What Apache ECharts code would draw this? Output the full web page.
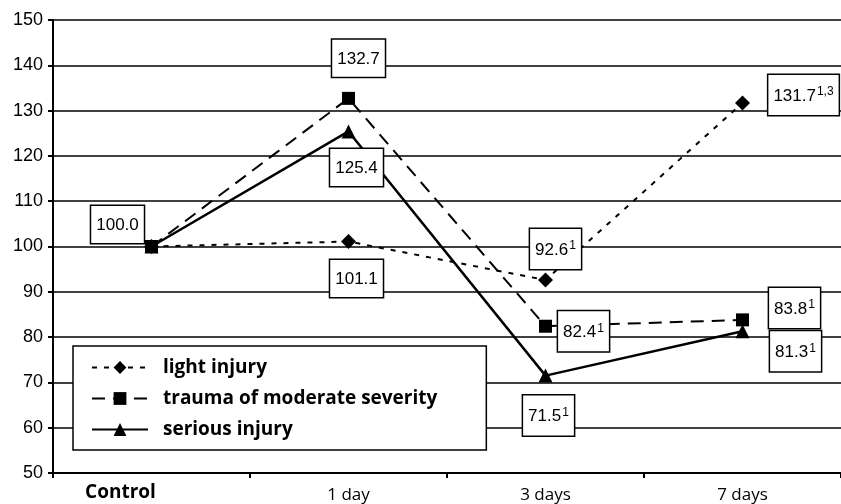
<!DOCTYPE html>
<html>
<head>
<meta charset="utf-8">
<script src="https://cdn.jsdelivr.net/npm/echarts@6/dist/echarts.min.js"></script>
<style>
  html, body { margin: 0; padding: 0; background: #fff; }
  #chart { width: 841px; height: 504px; }
</style>
</head>
<body>
<div id="chart"></div>
<script>
const categories = ['Control', '1 day', '3 days', '7 days']
const yTicks = [50, 60, 70, 80, 90, 100, 110, 120, 130, 140, 150]

const lightVals    = [100.0, 101.1, 92.6, 131.7]
const moderateVals = [100.0, 132.7, 82.4, 83.8]
const seriousVals  = [100.0, 125.4, 71.5, 81.3]

// superscript marks shown next to each value ('-' = no label box)
const lightSup    = ['-', '', '1', '1,3']
const moderateSup = ['', '', '1', '1']
const seriousSup  = ['-', '', '1', '1']

// label box offsets from the point, px
const lightOff    = [[0, 0], [8, 37], [10, -31], [61, -8]]
const moderateOff = [[-34, -22], [10, -40], [38, 5], [52, -12]]
const seriousOff  = [[0, 0], [8, 36], [3, 40], [53, 20]]

const FONT = 'Liberation Sans, Arial, sans-serif'
const BOLD = 'Open Sans, sans-serif'

const BOX = {
  show: true, position: 'inside', color: '#000',
  fontFamily: FONT, fontSize: 17,
  backgroundColor: '#fff', borderColor: '#000', borderWidth: 1.5,
  padding: [11, 5, 9, 5],
  rich: {
    v: { fontSize: 17, color: '#000', fontFamily: FONT },
    s: { fontSize: 12, color: '#000', verticalAlign: 'top', padding: [0, 0, 8, 1], fontFamily: FONT },
  },
}

function points(vals, sups, offs) {
  return vals.map((v, i) => {
    if (sups[i] === '-') return { value: v, label: { show: false } }
    const txt = sups[i] ? `{v|${v.toFixed(1)}}{s|${sups[i]}}` : `{v|${v.toFixed(1)}}`
    return { value: v, label: { ...BOX, offset: offs[i], formatter: txt } }
  })
}

const chart = echarts.init(document.getElementById('chart'), null, { renderer: 'canvas' })

chart.setOption({
  backgroundColor: '#fff',
  animation: false,
  grid: { left: 53, right: 0, top: 20, bottom: 31 },
  legend: {
    orient: 'vertical', left: 73, top: 346,
    padding: [12, 49, 11, 18],
    borderColor: '#000', borderWidth: 1.5, backgroundColor: '#fff',
    itemWidth: 56, itemHeight: 16, itemGap: 12,
    textStyle: { color: '#000', fontFamily: BOLD, fontWeight: 'bold', fontSize: 19, padding: [0, 0, 0, 10] },
    data: ['light injury', 'trauma of moderate severity', 'serious injury'],
  },
  xAxis: {
    type: 'category', data: categories,
    axisLine: { lineStyle: { color: '#000', width: 2 } },
    axisTick: { show: true, length: 5, lineStyle: { color: '#000', width: 2 } },
    axisLabel: {
      margin: 10, color: '#000',
      formatter: v => v === 'Control' ? `{b|${v}}` : `{n|${v}}`,
      rich: {
        b: { fontFamily: BOLD, fontWeight: 'bold', fontSize: 19, color: '#000', padding: [0, 62, 0, 0] },
        n: { fontFamily: BOLD, fontSize: 17, color: '#000', padding: [4, 0, 0, 0] },
      },
    },
  },
  yAxis: {
    type: 'value', min: yTicks[0], max: yTicks[yTicks.length - 1], interval: 10,
    axisLine: { show: true, lineStyle: { color: '#000', width: 2 } },
    axisTick: { show: true, length: 5, lineStyle: { color: '#000', width: 2 } },
    axisLabel: { color: '#000', fontFamily: FONT, fontSize: 18, margin: 10 },
    splitLine: { lineStyle: { color: '#000', width: 1.5 } },
  },
  series: [
    { name: 'light injury', type: 'line', data: points(lightVals, lightSup, lightOff),
      symbol: 'diamond', symbolSize: 15, z: 3,
      lineStyle: { color: '#000', width: 2, type: [5, 7] },
      itemStyle: { color: '#000' } },
    { name: 'trauma of moderate severity', type: 'line', data: points(moderateVals, moderateSup, moderateOff),
      symbol: 'rect', symbolSize: 13, z: 4,
      lineStyle: { color: '#000', width: 2, type: [13, 8] },
      itemStyle: { color: '#000' } },
    { name: 'serious injury', type: 'line', data: points(seriousVals, seriousSup, seriousOff),
      symbol: 'triangle', symbolSize: 14, z: 5,
      lineStyle: { color: '#000', width: 2.5 },
      itemStyle: { color: '#000' } },
  ],
})
</script>
</body>
</html>
